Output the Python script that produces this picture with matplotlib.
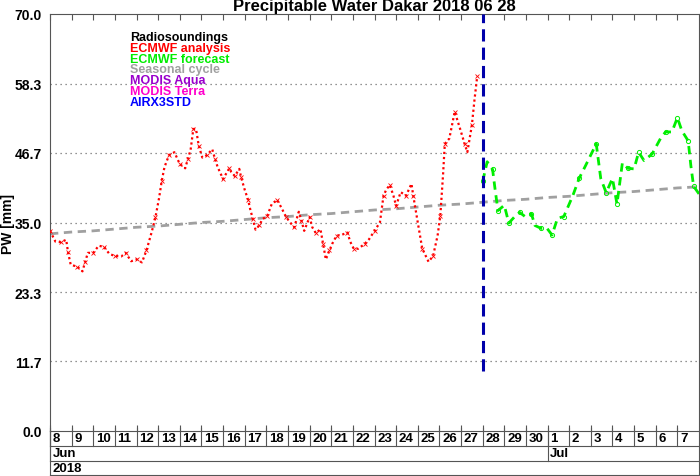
import matplotlib
matplotlib.use("Agg")
import matplotlib.pyplot as plt
import matplotlib.transforms as mtransforms
import numpy as np

plt.rcParams['font.family'] = ['Liberation Sans', 'DejaVu Sans']
plt.rcParams['font.weight'] = 'bold'

# hours since 2018-06-08 00 UTC
ana_hours = [0, 6, 12, 18, 20, 23, 30, 36, 39, 42, 48, 54, 60, 66, 72, 79, 84, 90,
             96, 102, 107, 113, 117, 121, 124, 127, 132, 138, 144, 150, 153, 156,
             159, 162, 165, 169, 174, 180, 183, 186, 192, 195, 199, 201, 205, 210,
             212, 216, 220, 222, 225, 228, 232, 236, 241, 246, 252, 257, 262, 267,
             271, 276, 279, 282, 288, 291, 295, 300, 303, 306, 310, 313, 318, 323,
             330, 333, 337, 342, 349, 354, 360, 366, 370, 373, 377, 381, 384, 389,
             395, 401, 403, 408, 413, 420, 425, 430, 433, 436, 438, 443, 449, 455,
             460, 463, 468, 471, 474]
ana_pw = [33.6, 31.8, 31.7, 32.1, 30.0, 27.9, 27.6, 26.8, 28.4, 29.9, 29.9, 31.1,
          30.9, 29.7, 29.4, 29.3, 29.9, 28.5, 28.8, 28.3, 30.3, 33.5, 35.9, 39.1,
          42.0, 44.3, 46.3, 46.8, 44.8, 44.1, 45.7, 47.2, 50.7, 50.7, 47.9, 45.9,
          46.3, 47.3, 45.7, 44.3, 42.3, 43.1, 44.1, 43.5, 42.8, 44.0, 42.6, 40.5,
          38.7, 37.3, 35.6, 33.8, 34.5, 35.6, 36.1, 38.1, 38.8, 37.4, 35.9, 34.9,
          34.2, 36.8, 35.3, 33.6, 35.9, 34.2, 33.2, 33.9, 31.4, 28.8, 30.3, 31.4,
          32.8, 32.9, 33.3, 31.8, 30.6, 30.6, 31.4, 32.2, 33.6, 35.0, 39.5, 40.5,
          41.3, 39.5, 37.8, 40.1, 39.5, 41.5, 39.5, 35.0, 30.6, 28.4, 29.4, 32.8,
          36.1, 42.9, 48.2, 49.1, 53.6, 50.7, 48.2, 46.8, 51.3, 55.7, 59.6]

fc_hours = [480, 485, 491, 494, 497, 504, 509, 515, 521, 527, 534, 538, 545, 551,
            557, 563, 570, 580, 587, 594, 606, 611, 617, 624, 629, 635, 641, 648,
            653, 659, 668, 678, 683, 690, 696, 701, 708, 711, 714, 720]
fc_pw = [41.9, 45.2, 43.9, 40.3, 37.0, 37.9, 34.9, 35.9, 36.7, 36.0, 36.5, 34.5,
         34.0, 34.1, 32.9, 35.7, 36.0, 39.5, 42.4, 44.5, 48.2, 42.4, 40.0, 42.4,
         38.1, 45.0, 44.1, 44.0, 46.8, 45.4, 46.5, 49.3, 50.2, 50.2, 52.6, 50.4,
         48.7, 44.5, 41.1, 39.8]

season_days = list(range(31))
season_pw = [33.1, 33.4, 33.6, 33.9, 34.2, 34.4, 34.7, 35.0, 35.2, 35.5, 35.8,
             36.0, 36.3, 36.5, 36.8, 37.1, 37.3, 37.6, 37.9, 38.1, 38.4, 38.7,
             38.9, 39.2, 39.4, 39.7, 40.0, 40.2, 40.5, 40.8, 41.0]

day_labels = ['8', '9', '10', '11', '12', '13', '14', '15', '16', '17', '18', '19',
              '20', '21', '22', '23', '24', '25', '26', '27', '28', '29', '30',
              '1', '2', '3', '4', '5', '6', '7']
month_labels = [('Jun', 0), ('Jul', 23)]
year_label = '2018'
yticks = [0.0, 11.7, 23.3, 35.0, 46.7, 58.3, 70.0]
init_hour = 480

legend_items = [('Radiosoundings', 'black'), ('ECMWF analysis', '#ff0000'),
                ('ECMWF forecast', '#00ee00'), ('Seasonal cycle', '#a0a0a0'),
                ('MODIS Aqua', '#9900cc'), ('MODIS Terra', '#ff00cc'),
                ('AIRX3STD', '#0000ff')]

fig = plt.figure(figsize=(7, 4.77), dpi=100)
ax = fig.add_axes([50 / 700, 1 - 432 / 477, 649 / 700, 417 / 477])

days = np.array(season_days) * 24
ax.plot(days, season_pw, color='#a0a0a0', lw=2, dashes=(3, 2), zorder=2)
ax.plot(ana_hours, ana_pw, color='red', lw=1.6, ls=(0, (1, 1.3)), marker='x',
        ms=2.2, mew=0.6, markevery=2, zorder=3)
ax.plot(fc_hours, fc_pw, color='#00ee00', lw=2, dashes=(3, 2), marker='o', ms=3,
        mfc='none', mew=0.7, markevery=2, zorder=3)
ax.plot([init_hour, init_hour], [10, 70], color='#0000aa', lw=2.2,
        dashes=(4, 2), zorder=4)

ax.set_xlim(0, 720)
ax.set_ylim(0, 70)
ax.set_yticks(yticks)
ax.set_yticklabels(['%.1f' % v for v in yticks], fontsize=10, fontweight='bold')
ax.tick_params(axis='y', length=0, pad=6)
for v in yticks[1:-1]:
    ax.axhline(v, color='#707070', lw=0.9, ls=(0, (1, 3)), zorder=1)

ax.set_xticks(np.arange(30) * 24)
ax.tick_params(axis='x', which='both', top=True, bottom=True, direction='in',
               length=4, labelbottom=False, color='#555555')
for s in ax.spines.values():
    s.set_color('#555555')

ax.set_ylabel('PW [mm]', fontsize=10, fontweight='bold')
ax.yaxis.set_label_coords(-35 / 649, 0.5)
ax.set_title('Precipitable Water Dakar 2018 06 28', fontsize=12,
             fontweight='bold', pad=3)

# date table below axis
tr = mtransforms.blended_transform_factory(ax.transData, ax.transAxes)
row = 15 / 417
lc = '#555555'
for yy in [-row, -2 * row, -3 * row + 0.002]:
    ax.plot([0, 720], [yy, yy], transform=tr, color=lc, lw=0.8, clip_on=False)
for edge in [0, 720]:
    ax.plot([edge, edge], [0, -3 * row + 0.002], transform=tr, color=lc, lw=0.8,
            clip_on=False)
for i, lab in enumerate(day_labels):
    ax.plot([i * 24, i * 24], [0.006, -row], transform=tr, color=lc, lw=0.8,
            clip_on=False)
    ax.text(i * 24 + 3, -row / 2, lab, transform=tr, fontsize=9.5,
            fontweight='bold', ha='left', va='center')
for lab, d in month_labels:
    ax.plot([d * 24, d * 24], [0, -2 * row], transform=tr, color=lc, lw=0.8,
            clip_on=False)
    ax.text(d * 24 + 3, -1.5 * row, lab, transform=tr, fontsize=9.5,
            fontweight='bold', ha='left', va='center')
ax.text(3, -2.5 * row, year_label, transform=tr, fontsize=9.5,
        fontweight='bold', ha='left', va='center')

for k, (lab, col) in enumerate(legend_items):
    ax.text(80 / 649, (432 - 23 - k * 10.8 - 15) / 417, lab, transform=ax.transAxes,
            color=col, fontsize=9, fontweight='bold', ha='left', va='center')

fig.savefig('out.png', dpi=100)
